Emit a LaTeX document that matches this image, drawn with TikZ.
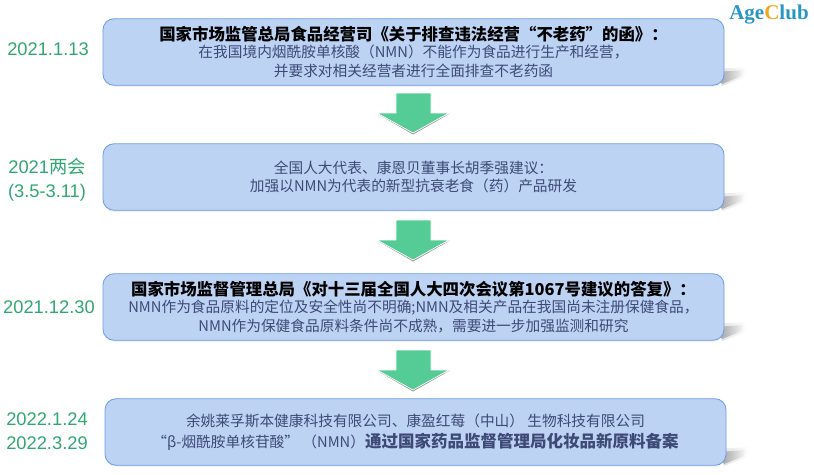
\documentclass[tikz,border=0pt]{standalone}
\usepackage{fontspec}
\setmainfont{Liberation Sans}
\newfontfamily\cjk{Noto Sans CJK SC}
\newfontfamily\logofont{Liberation Serif}
\usetikzlibrary{fadings,shadows}
\definecolor{boxblue}{HTML}{BDD3F4}
\definecolor{boxline}{HTML}{6C9BE4}
\definecolor{arrowgreen}{HTML}{55CC96}
\definecolor{dategreen}{HTML}{2FA772}
\definecolor{textblue}{HTML}{3D4A75}
\definecolor{agegreen}{HTML}{2A96C4}
\definecolor{ageorange}{HTML}{F5A623}
\tikzset{
    stagebox/.style={draw=boxline,fill=boxblue,line width=0.8pt,rounded corners=11pt,minimum width=621pt,minimum height=66.5pt,inner sep=0pt,align=center,text=textblue,font=\cjk\fontsize{14.7}{18.5}\selectfont,drop shadow={opacity=0.12,shadow xshift=0pt,shadow yshift=-1.5pt}},
    datelabel/.style={text=dategreen,align=center,font=\fontsize{18.3}{24}\selectfont},
    downarrow/.style={fill=arrowgreen,draw=white,line width=0.7pt,line join=miter},
    boxshadow/.style={fill=black!55,path fading=east,opacity=0.6},
    softshadow/.style={fill=black!30,path fading=east,opacity=0.45}
}
\newcommand{\headtext}[1]{\raisebox{-1.5pt}{\textcolor{black}{\bfseries\fontsize{16.4}{18.5}\selectfont #1}}}
\newcommand{\downarrowshape}[1]{
    \fill[black!40] (377,#1+20.5) -- (413,#1+41.5) -- (450,#1+20.5) -- (413,#1+38) -- cycle;
    \draw[downarrow] (396,#1) -- (431,#1) -- (431,#1+20) -- (449,#1+20) -- (413,#1+40) -- (377,#1+20) -- (396,#1+20) -- cycle;
}
\newcommand{\cornershadow}[2]{
    \fill[softshadow] (#1-8,#2-16) -- (#1+23,#2-18) -- (#1+22,#2-8) -- (#1-2,#2+1) -- cycle;
    \fill[boxshadow] (#1-8,#2-13) -- (#1+20,#2-15) -- (#1+18,#2-9) -- (#1-2,#2-1) -- cycle;
}
\begin{document}
\begin{tikzpicture}[x=1pt,y=-1pt]
    \useasboundingbox (0,0) rectangle (814,474);

    % shadows
    \cornershadow{724}{85}
    \cornershadow{724}{210}
    \cornershadow{724}{340}
    \cornershadow{726}{465}

    \node[stagebox] (first) at (413.5,52) {\headtext{国家市场监管总局食品经营司《关于排查违法经营“不老药”的函》：}\\在我国境内烟酰胺单核酸（NMN）不能作为食品进行生产和经营，\\并要求对相关经营者进行全面排查不老药函};
    \node[stagebox] (second) at (413.5,177) {全国人大代表、康恩贝董事长胡季强建议：\\加强以NMN为代表的新型抗衰老食（药）产品研发};
    \node[stagebox] (third) at (413.5,307) {\headtext{国家市场监督管理总局《对十三届全国人大四次会议第1067号建议的答复》：}\\NMN作为食品原料的定位及安全性尚不明确;NMN及相关产品在我国尚未注册保健食品，\\NMN作为保健食品原料条件尚不成熟，需要进一步加强监测和研究};
    \node[stagebox] (fourth) at (415.5,432) {余姚莱孚斯本健康科技有限公司、康盈红莓（中山） 生物科技有限公司\\[3pt]“β-烟酰胺单核苷酸” （NMN）{\bfseries\fontsize{16.5}{18.5}\selectfont 通过国家药品监督管理局化妆品新原料备案}};

    \downarrowshape{93}
    \downarrowshape{220}
    \downarrowshape{350}

    \node[datelabel] (date1) at (48,49) {2021.1.13};
    \node[datelabel] (date2) at (47,179.5) {2021{\cjk 两会}\\(3.5-3.11)};
    \node[datelabel] (date3) at (49,307) {2021.12.30};
    \node[datelabel] (date4) at (47,431) {2022.1.24\\2022.3.29};

    \node[font=\logofont\bfseries\fontsize{21}{21}\selectfont,inner sep=0pt] (logo) at (769,14.5) {\textcolor{agegreen}{Age}\textcolor{ageorange}{C}\textcolor{agegreen}{lub}};
\end{tikzpicture}
\end{document}
